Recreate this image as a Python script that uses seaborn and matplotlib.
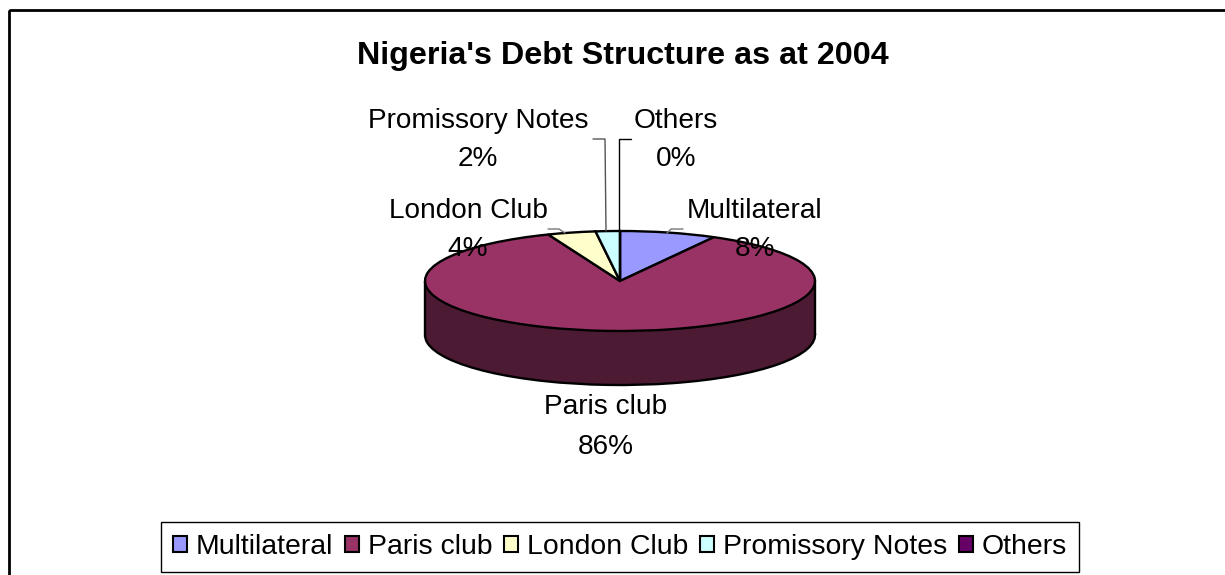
import matplotlib
matplotlib.use('Agg')
import matplotlib.pyplot as plt
import seaborn as sns
from matplotlib.patches import Patch, Rectangle

# Chart data
categories = ['Multilateral', 'Paris club', 'London Club', 'Promissory Notes', 'Others']
shares = [8, 86, 4, 2, 0]
title = "Nigeria's Debt Structure as at 2004"

slice_colors = ['#9999FF', '#993366', '#FFFFCC', '#CCFFFF', '#660066']
wall_color = '#4D1A33'

# label centres in pixels
label_pos = [(755, 230), (606, 427), (468, 230), (478, 140), (676, 140)]

sns.set_theme(style='white')
plt.rcParams['font.family'] = ['Liberation Sans', 'DejaVu Sans']

W, H = 1225, 575
fig = plt.figure(figsize=(W / 100, H / 100), dpi=100)
fig.patch.set_facecolor('white')

# Pie axes: one data unit is 195 px across and 50 px down, so the disc looks tilted
cx, cy, rx, ry = 620, 281, 195, 50
depth = 54 / ry
span_y = 2.5
pie_ax = fig.add_axes([(cx - 1.25 * rx) / W, 1 - (cy + span_y * ry) / H,
                       2.5 * rx / W, 2 * span_y * ry / H])
palette = sns.color_palette(slice_colors)
edge = {'edgecolor': 'black', 'linewidth': 1.7}

# side wall first, then the top disc
pie_ax.pie(shares, colors=[wall_color] * 5, startangle=90, counterclock=False,
           center=(0, -depth), wedgeprops=edge)
pie_ax.add_patch(Rectangle((-1, -depth), 2, depth, facecolor=wall_color, edgecolor='none'))
# hides the spoke ends of the lower disc
pie_ax.add_patch(Rectangle((-0.5, -depth - 0.3), 1, 0.3, facecolor=wall_color, edgecolor='none'))
pie_ax.plot([-1, -1], [0, -depth], color='black', lw=1.7)
pie_ax.plot([1, 1], [0, -depth], color='black', lw=1.7)
wedges, _ = pie_ax.pie(shares, colors=palette, startangle=90, counterclock=False,
                       wedgeprops=edge)
pie_ax.set_aspect('auto')
pie_ax.set_xlim(-1.25, 1.25)
pie_ax.set_ylim(-span_y, span_y)

# Overlay in pixel coordinates for labels and leader lines
ax = fig.add_axes([0, 0, 1, 1])
ax.set_xlim(0, W)
ax.set_ylim(H, 0)
ax.axis('off')
ax.patch.set_alpha(0)

ax.add_patch(Rectangle((9, 10), W + 20, H + 20, facecolor='none', edgecolor='black', lw=2))
ax.text(623, 56, title, ha='center', va='center', fontsize=23.2, fontweight='bold', color='black')

for name, share, (x, y) in zip(categories, shares, label_pos):
    ax.text(x, y, f'{name}\n{share}%', ha='center', va='center', fontsize=20.2,
            linespacing=1.65, color='black')

# leader lines
ax.plot([593, 605, 606], [139, 139, 231], color='#555555', lw=1)
ax.plot([631, 619, 619], [139, 139, 231], color='black', lw=1)
ax.plot([548, 559, 565], [229, 229, 233], color='#777777', lw=1)
ax.plot([683, 671, 667], [229, 229, 233], color='#777777', lw=1)

handles = [Patch(facecolor=c, edgecolor='black', linewidth=1.5) for c in palette]
leg = fig.legend(handles, categories, ncol=5, loc='center',
                 bbox_to_anchor=(620 / W, 1 - 547 / H), fontsize=20.4, frameon=True,
                 fancybox=False, edgecolor='black', framealpha=1, labelcolor='black',
                 handlelength=0.5, handleheight=0.5, handletextpad=0.3,
                 columnspacing=0.42, borderpad=0.42, borderaxespad=0)
leg.get_frame().set_linewidth(1)

fig.savefig('out.png', dpi=100)
